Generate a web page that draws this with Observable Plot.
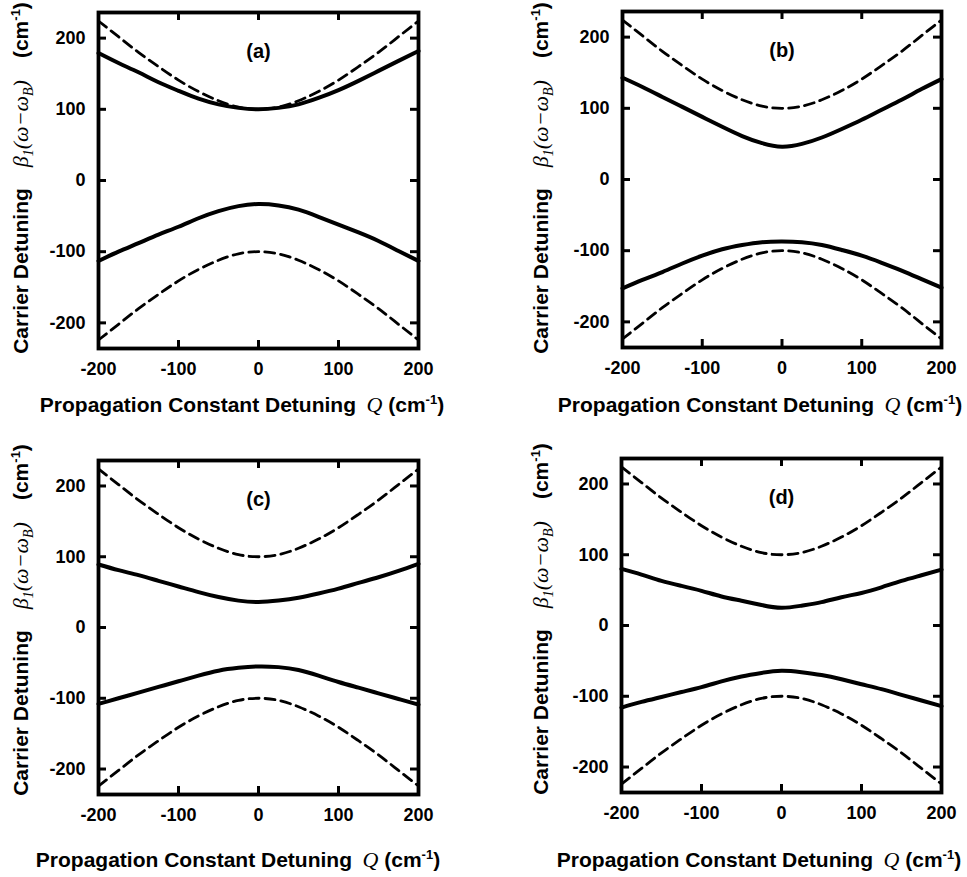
<!DOCTYPE html>
<html><head><meta charset="utf-8">
<script src="https://cdn.jsdelivr.net/npm/d3@7"></script>
<script src="https://cdn.jsdelivr.net/npm/@observablehq/plot@0.6"></script>
<style>
body{margin:0;background:#fff;}
#chart{position:relative;width:967px;height:877px;overflow:hidden;}
#chart svg{position:absolute;}
</style></head><body><div id="chart"></div>
<script>
// Propagation constant detuning Q (cm^-1)
const Q = [-200,-175,-150,-125,-100,-75,-50,-25,0,25,50,75,100,125,150,175,200];
const xTicks = [-200,-100,0,100,200];
const yTicks = [-200,-100,0,100,200];
const panelTags = ["(a)","(b)","(c)","(d)"];

// dashed reference curves (same in every panel)
const dashedUpper = [224,202,180,160,141,125,112,103,100,103,112,125,141,160,180,202,224];
const dashedLower = [-224,-202,-180,-160,-141,-125,-112,-103,-100,-103,-112,-125,-141,-160,-180,-202,-224];

// solid curves
const solidUpperA = [179,165,152,138,126,115,107,102,100,102,107,116,127,140,154,168,182];
const solidLowerA = [-113,-100,-88,-76,-65,-53,-43,-36,-33,-35,-41,-51,-62,-73,-85,-99,-113];
const solidUpperB = [143,130,116,102,88,74,61,51,46,50,59,71,84,98,112,127,141];
const solidLowerB = [-153,-141,-130,-118,-107,-98,-92,-88,-87,-88,-92,-99,-107,-117,-128,-140,-152];
const solidUpperC = [89,81,74,66,58,50,43,38,36,38,42,48,55,63,71,80,90];
const solidLowerC = [-108,-100,-92,-84,-76,-68,-61,-57,-55,-56,-60,-68,-77,-85,-93,-101,-109];
const solidUpperD = [80,72,63,56,49,41,35,29,25,28,33,40,46,54,63,71,79];
const solidLowerD = [-116,-108,-101,-94,-87,-79,-72,-67,-64,-66,-70,-76,-83,-90,-98,-106,-114];

const solids = [
  [solidUpperA, solidLowerA],
  [solidUpperB, solidLowerB],
  [solidUpperC, solidLowerC],
  [solidUpperD, solidLowerD]
];

const xDomain = [-200, 200];
const yDomain = [-236, 236];

// layout of the four panels (pixels)
const layout = [
  {left:0,   top:0,   w:480, h:430, mt:12, ml:98,  mr:62, mb:82, xlx:242, xly:412, ylx:28, yly:178},
  {left:480, top:0,   w:487, h:430, mt:11, ml:142, mr:26, mb:83, xlx:280, xly:412, ylx:68, yly:178},
  {left:0,   top:430, w:480, h:447, mt:30, ml:98,  mr:62, mb:83, xlx:238, xly:437, ylx:28, yly:190},
  {left:480, top:430, w:487, h:447, mt:28, ml:141, mr:26, mb:85, xlx:279, xly:437, ylx:68, yly:189}
];
const TICK_PX = 8;

const SANS = "'Liberation Sans', Arial, Helvetica, sans-serif";
const SERIF = "'Liberation Serif', 'Times New Roman', serif";

function rows(vals) { return Q.map((q, i) => ({q, v: vals[i]})); }

const chart = document.getElementById("chart");

layout.forEach((p, k) => {
  const [up, lo] = solids[k];
  const innerW = p.w - p.ml - p.mr;
  const innerH = p.h - p.mt - p.mb;
  // tick length converted from pixels into data units
  const tx = TICK_PX * (xDomain[1] - xDomain[0]) / innerW;
  const ty = TICK_PX * (yDomain[1] - yDomain[0]) / innerH;
  const dashOpts = {x: "q", y: "v", stroke: "#000", strokeWidth: 2.8, strokeDasharray: "10,6", curve: "natural"};
  const solidOpts = {x: "q", y: "v", stroke: "#000", strokeWidth: 4, curve: "natural"};
  const tickStyle = {stroke: "#000", strokeWidth: 3};
  const plot = Plot.plot({
    width: p.w, height: p.h,
    marginTop: p.mt, marginLeft: p.ml, marginRight: p.mr, marginBottom: p.mb,
    x: {domain: xDomain},
    y: {domain: yDomain},
    style: {fontFamily: SANS, fontWeight: "bold", fontSize: "18px", color: "#000", background: "transparent", overflow: "visible"},
    marks: [
      Plot.line(rows(dashedUpper), dashOpts),
      Plot.line(rows(dashedLower), dashOpts),
      Plot.line(rows(up), solidOpts),
      Plot.line(rows(lo), solidOpts),
      // inward tick marks on all four sides
      Plot.ruleX(xTicks, {x: d => d, y1: yDomain[0], y2: yDomain[0] + ty, ...tickStyle}),
      Plot.ruleX(xTicks, {x: d => d, y1: yDomain[1], y2: yDomain[1] - ty, ...tickStyle}),
      Plot.ruleY(yTicks, {y: d => d, x1: xDomain[0], x2: xDomain[0] + tx, ...tickStyle}),
      Plot.ruleY(yTicks, {y: d => d, x1: xDomain[1], x2: xDomain[1] - tx, ...tickStyle}),
      Plot.frame({stroke: "#000", strokeWidth: 3.8}),
      // tick labels
      Plot.axisX({anchor: "bottom", ticks: xTicks, tickSize: 0, tickPadding: 14, tickFormat: d => String(d), label: null}),
      Plot.axisY({anchor: "left", ticks: yTicks, tickSize: 0, tickPadding: 13, tickFormat: d => String(d), label: null}),
      Plot.text([panelTags[k]], {frameAnchor: "top", dy: 31, text: d => d, fontSize: 20, fontWeight: "bold"})
    ]
  });
  plot.style.left = p.left + "px";
  plot.style.top = p.top + "px";
  chart.appendChild(plot);

  const svg = d3.select(plot);
  // x axis label
  const xl = svg.append("text")
    .attr("x", p.xlx).attr("y", p.xly)
    .attr("text-anchor", "middle")
    .attr("font-family", SANS).attr("font-weight", "bold").attr("font-size", 21).attr("fill", "#000");
  xl.append("tspan").text("Propagation Constant Detuning\u2002");
  xl.append("tspan").attr("font-family", SERIF).attr("font-style", "italic").attr("font-weight", "normal").attr("font-size", 22).text("Q");
  xl.append("tspan").text(" (cm");
  xl.append("tspan").attr("dy", -8).attr("font-size", 13).text("-1");
  xl.append("tspan").attr("dy", 8).text(")");

  // y axis label
  const yl = svg.append("text")
    .attr("transform", `translate(${p.ylx},${p.yly}) rotate(-90)`)
    .attr("text-anchor", "middle")
    .attr("font-family", SANS).attr("font-weight", "bold").attr("font-size", 21).attr("fill", "#000");
  yl.append("tspan").text("Carrier Detuning\u2003");
  yl.append("tspan").attr("font-family", SERIF).attr("font-style", "italic").attr("font-weight", "normal").attr("font-size", 22).text("\u03B2");
  yl.append("tspan").attr("font-family", SERIF).attr("font-style", "italic").attr("font-weight", "normal").attr("font-size", 14).attr("dy", 5).text("1");
  yl.append("tspan").attr("font-family", SERIF).attr("font-style", "italic").attr("font-weight", "normal").attr("font-size", 22).attr("dy", -5).text("(\u03C9\u2212\u03C9");
  yl.append("tspan").attr("font-family", SERIF).attr("font-style", "italic").attr("font-weight", "normal").attr("font-size", 14).attr("dy", 5).text("B");
  yl.append("tspan").attr("font-family", SERIF).attr("font-style", "italic").attr("font-weight", "normal").attr("font-size", 22).attr("dy", -5).text(")\u2003");
  yl.append("tspan").text("(cm");
  yl.append("tspan").attr("dy", -8).attr("font-size", 13).text("-1");
  yl.append("tspan").attr("dy", 8).text(")");
});
</script>
</body></html>
